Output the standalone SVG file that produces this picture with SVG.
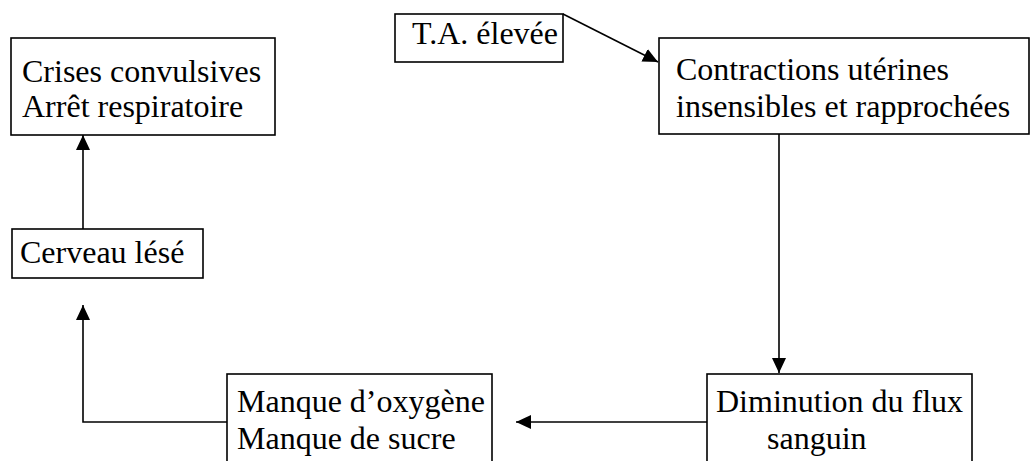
<svg xmlns="http://www.w3.org/2000/svg" width="1030" height="461" viewBox="0 0 1030 461">
<style>
.box{fill:#fff;stroke:#000;stroke-width:1.6}
.lbl{font-family:"Liberation Serif","Times New Roman",serif;font-size:32px;fill:#000}
.con{fill:none;stroke:#000;stroke-width:1.6}
</style>
<defs>
<marker id="arr" markerUnits="userSpaceOnUse" markerWidth="16" markerHeight="16" refX="15" refY="7" orient="auto">
<path d="M0,0 L15,7 L0,14 z" fill="#000"/>
</marker>
</defs>
<rect width="1030" height="461" fill="#fff"/>
<g id="connectors">
<line class="con" x1="563" y1="14" x2="658" y2="62" marker-end="url(#arr)"/>
<line class="con" x1="779" y1="134" x2="779" y2="373" marker-end="url(#arr)"/>
<line class="con" x1="707" y1="422" x2="516" y2="422" marker-end="url(#arr)"/>
<polyline class="con" points="227,422 83,422 83,305" marker-end="url(#arr)"/>
<line class="con" x1="83" y1="229" x2="83" y2="135" marker-end="url(#arr)"/>
</g>
<g id="crises">
<rect class="box" x="11" y="38" width="264" height="97"/>
<text class="lbl" x="22" y="82">Crises convulsives</text>
<text class="lbl" x="22" y="117">Arrêt respiratoire</text>
</g>
<g id="ta">
<rect class="box" x="395" y="14" width="168" height="48"/>
<text class="lbl" x="412" y="44">T.A. élevée</text>
</g>
<g id="contractions">
<rect class="box" x="659" y="38" width="370" height="96"/>
<text class="lbl" x="676" y="80">Contractions utérines</text>
<text class="lbl" x="676" y="117">insensibles et rapprochées</text>
</g>
<g id="cerveau">
<rect class="box" x="12" y="229" width="191" height="49"/>
<text class="lbl" x="20" y="263">Cerveau lésé</text>
</g>
<g id="manque">
<rect class="box" x="227" y="374" width="265" height="95"/>
<text class="lbl" x="237" y="412">Manque d’oxygène</text>
<text class="lbl" x="237" y="449">Manque de sucre</text>
</g>
<g id="diminution">
<rect class="box" x="707" y="374" width="265" height="95"/>
<text class="lbl" x="716" y="412">Diminution du flux</text>
<text class="lbl" x="767" y="449">sanguin</text>
</g>
</svg>
